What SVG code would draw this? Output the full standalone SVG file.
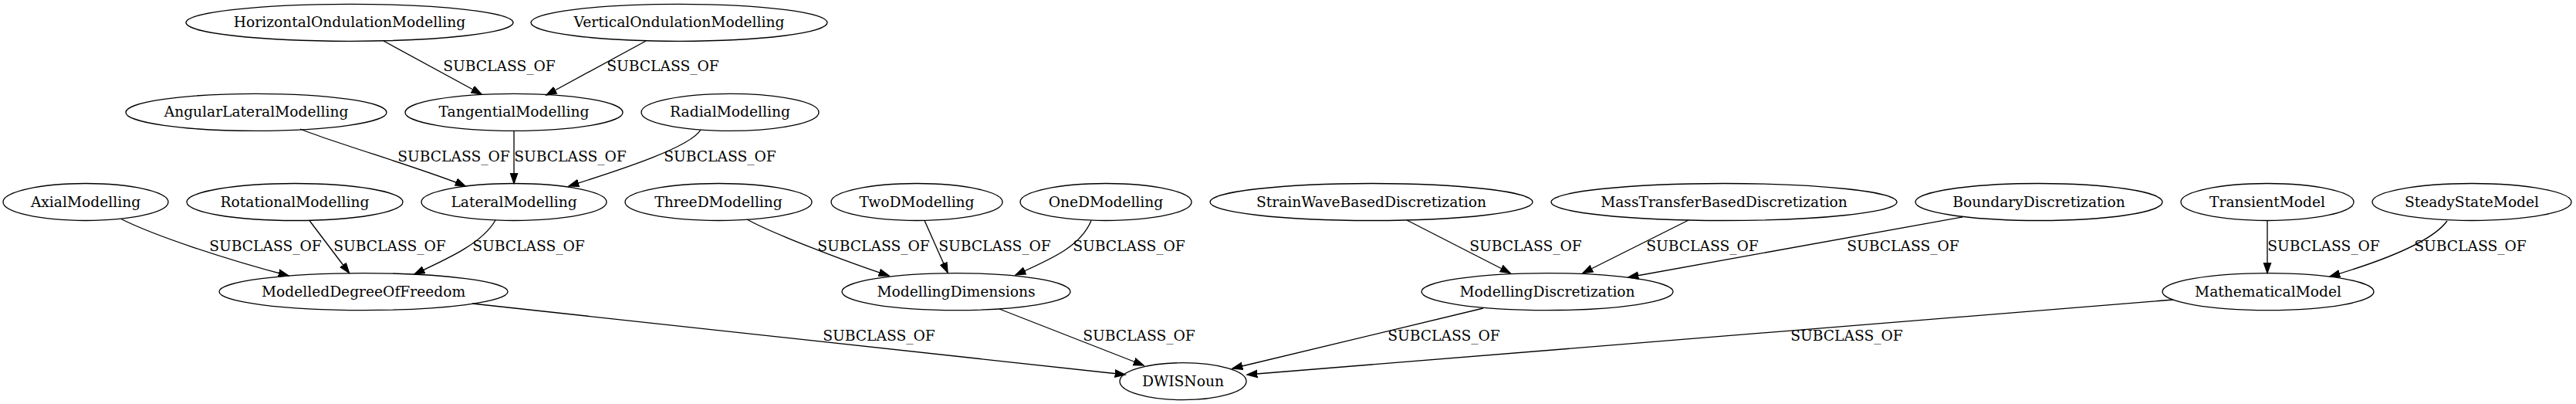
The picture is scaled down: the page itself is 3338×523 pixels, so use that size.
<svg xmlns="http://www.w3.org/2000/svg" width="3338" height="523" viewBox="0 0 3338 523">
<style>
.n ellipse{fill:none;stroke:#000;stroke-width:1.33}
.n text{font-family:"DejaVu Serif",serif;font-size:18.67px;text-anchor:middle;fill:#000}
.e path{fill:none;stroke:#000;stroke-width:1.33;marker-end:url(#arr)}
.e text{font-family:"DejaVu Serif",serif;font-size:18.67px;text-anchor:middle;fill:#000}
</style>
<defs>
<marker id="arr" viewBox="0 -6 15 12" refX="13.33" refY="0" markerWidth="15" markerHeight="12" markerUnits="userSpaceOnUse" orient="auto">
<path d="M0,-4.67 L13.33,0 L0,4.67 Z" fill="#000" stroke="#000" stroke-width="1.33"/>
</marker>
</defs>
<rect width="3338" height="523" fill="#fff"/>
<g id="nodes">
<g id="HorizontalOndulationModelling" class="n"><ellipse cx="453" cy="29.3" rx="212" ry="24"/><text x="453" y="35.3">HorizontalOndulationModelling</text></g>
<g id="VerticalOndulationModelling" class="n"><ellipse cx="880" cy="29.3" rx="192" ry="24"/><text x="880" y="35.3">VerticalOndulationModelling</text></g>
<g id="AngularLateralModelling" class="n"><ellipse cx="332" cy="145.4" rx="169" ry="24"/><text x="332" y="151.4">AngularLateralModelling</text></g>
<g id="TangentialModelling" class="n"><ellipse cx="666" cy="145.4" rx="141" ry="24"/><text x="666" y="151.4">TangentialModelling</text></g>
<g id="RadialModelling" class="n"><ellipse cx="946" cy="145.4" rx="115" ry="24"/><text x="946" y="151.4">RadialModelling</text></g>
<g id="AxialModelling" class="n"><ellipse cx="111" cy="261.5" rx="107" ry="24"/><text x="111" y="267.5">AxialModelling</text></g>
<g id="RotationalModelling" class="n"><ellipse cx="382" cy="261.5" rx="140" ry="24"/><text x="382" y="267.5">RotationalModelling</text></g>
<g id="LateralModelling" class="n"><ellipse cx="666" cy="261.5" rx="120" ry="24"/><text x="666" y="267.5">LateralModelling</text></g>
<g id="ThreeDModelling" class="n"><ellipse cx="931" cy="261.5" rx="121" ry="24"/><text x="931" y="267.5">ThreeDModelling</text></g>
<g id="TwoDModelling" class="n"><ellipse cx="1188" cy="261.5" rx="111" ry="24"/><text x="1188" y="267.5">TwoDModelling</text></g>
<g id="OneDModelling" class="n"><ellipse cx="1433" cy="261.5" rx="111" ry="24"/><text x="1433" y="267.5">OneDModelling</text></g>
<g id="StrainWaveBasedDiscretization" class="n"><ellipse cx="1777" cy="261.5" rx="209" ry="24"/><text x="1777" y="267.5">StrainWaveBasedDiscretization</text></g>
<g id="MassTransferBasedDiscretization" class="n"><ellipse cx="2234" cy="261.5" rx="224" ry="24"/><text x="2234" y="267.5">MassTransferBasedDiscretization</text></g>
<g id="BoundaryDiscretization" class="n"><ellipse cx="2642" cy="261.5" rx="160" ry="24"/><text x="2642" y="267.5">BoundaryDiscretization</text></g>
<g id="TransientModel" class="n"><ellipse cx="2938" cy="261.5" rx="112" ry="24"/><text x="2938" y="267.5">TransientModel</text></g>
<g id="SteadyStateModel" class="n"><ellipse cx="3203" cy="261.5" rx="129" ry="24"/><text x="3203" y="267.5">SteadyStateModel</text></g>
<g id="ModelledDegreeOfFreedom" class="n"><ellipse cx="471" cy="377.6" rx="187" ry="24"/><text x="471" y="383.6">ModelledDegreeOfFreedom</text></g>
<g id="ModellingDimensions" class="n"><ellipse cx="1239" cy="377.6" rx="148" ry="24"/><text x="1239" y="383.6">ModellingDimensions</text></g>
<g id="ModellingDiscretization" class="n"><ellipse cx="2005" cy="377.6" rx="163" ry="24"/><text x="2005" y="383.6">ModellingDiscretization</text></g>
<g id="MathematicalModel" class="n"><ellipse cx="2939" cy="377.6" rx="137" ry="24"/><text x="2939" y="383.6">MathematicalModel</text></g>
<g id="DWISNoun" class="n"><ellipse cx="1533" cy="493.7" rx="82" ry="24"/><text x="1533" y="499.7">DWISNoun</text></g>
</g>
<g id="edges" class="e">
<path d="M497,53 L624,122"/><text x="647" y="92.4">SUBCLASS_OF</text>
<path d="M837,53 L708,123"/><text x="859" y="92.4">SUBCLASS_OF</text>
<path d="M389,167 C430,184 560,222 603,241"/><text x="588" y="208.5">SUBCLASS_OF</text>
<path d="M666,169.4 L666,237.5"/><text x="739" y="208.5">SUBCLASS_OF</text>
<path d="M908,168 C895,190 810,218 737,241"/><text x="933" y="208.5">SUBCLASS_OF</text>
<path d="M157,283.5 C200,305 290,335 374,357"/><text x="344" y="324.6">SUBCLASS_OF</text>
<path d="M401,285.5 L452.5,353.5"/><text x="505" y="324.6">SUBCLASS_OF</text>
<path d="M642,285 C625,315 580,335 537,355"/><text x="685" y="324.6">SUBCLASS_OF</text>
<path d="M612,393 L1458,485"/><text x="1139" y="440.7">SUBCLASS_OF</text>
<path d="M968,284 C1000,302 1100,340 1152,357"/><text x="1132" y="324.6">SUBCLASS_OF</text>
<path d="M1198,285.5 L1228,353"/><text x="1289" y="324.6">SUBCLASS_OF</text>
<path d="M1414,285.5 C1400,320 1360,336 1316,356"/><text x="1463" y="324.6">SUBCLASS_OF</text>
<path d="M1295,400 L1482,473"/><text x="1476" y="440.7">SUBCLASS_OF</text>
<path d="M1823,285 L1957,353.5"/><text x="1977" y="324.6">SUBCLASS_OF</text>
<path d="M2188,285 L2051,353.5"/><text x="2206" y="324.6">SUBCLASS_OF</text>
<path d="M2543,281 L2110,359"/><text x="2466" y="324.6">SUBCLASS_OF</text>
<path d="M2938,285.5 L2938,353.5"/><text x="3011" y="324.6">SUBCLASS_OF</text>
<path d="M3171,286 C3150,315 3080,340 3019,358"/><text x="3201" y="324.6">SUBCLASS_OF</text>
<path d="M1922,399 L1597,477"/><text x="1871" y="440.7">SUBCLASS_OF</text>
<path d="M2816,388 L1616,485"/><text x="2393" y="440.7">SUBCLASS_OF</text>
</g>
</svg>
